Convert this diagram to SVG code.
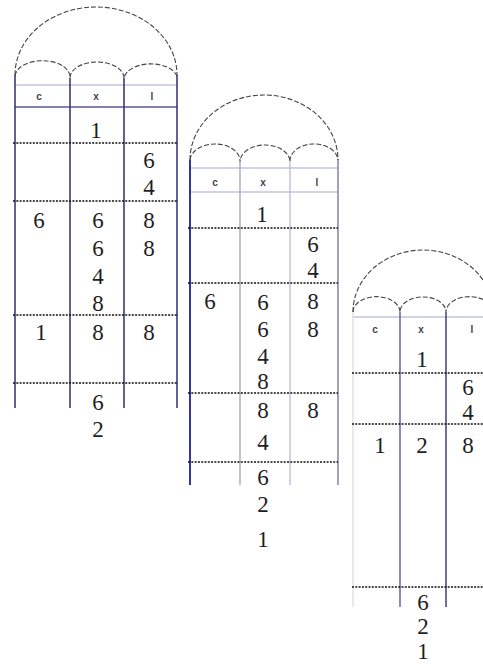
<svg xmlns="http://www.w3.org/2000/svg" width="483" height="666" viewBox="0 0 483 666">
<style>
.arc{fill:none;stroke:#444;stroke-width:1.1;stroke-dasharray:5 2}
.dot{fill:none;stroke:#111;stroke-width:1.6;stroke-dasharray:2 1.3}
.hl{stroke:#a4a8d0;stroke-width:1.2}
.d{font-family:'Liberation Serif','DejaVu Serif','Times New Roman',serif;font-size:23px;fill:#1e1e1e;text-anchor:middle}
.h{font-family:'Liberation Sans','DejaVu Sans',Arial,sans-serif;font-size:10px;font-weight:bold;fill:#444;text-anchor:middle}
</style>
<rect width="483" height="666" fill="#fff"/>
<g id="panel1">
<path class="arc" d="M15 75 A81 68 0 0 1 177 75"/>
<path class="arc" d="M15 76 A27 16 0 0 1 70 78 A27 16 0 0 1 124 78 A27 16 0 0 1 177 76"/>
<line class="hl" x1="15" y1="85" x2="177" y2="85"/>
<line x1="15" y1="107" x2="177" y2="107" stroke="#5a5a96" stroke-width="1.3"/>
<g stroke="#3a3a78" stroke-width="1.6">
<line x1="15" y1="75" x2="15" y2="408"/>
<line x1="70" y1="78" x2="70" y2="408"/>
<line x1="124" y1="78" x2="124" y2="408"/>
<line x1="177" y1="75" x2="177" y2="408"/>
</g>
<line class="dot" x1="13" y1="143" x2="177" y2="143"/>
<line class="dot" x1="13" y1="201" x2="177" y2="201"/>
<line class="dot" x1="13" y1="315" x2="177" y2="315"/>
<line class="dot" x1="13" y1="383" x2="177" y2="383"/>
<text class="h" x="39" y="100">c</text>
<text class="h" x="96" y="100">x</text>
<text class="h" x="152" y="100">l</text>
<text class="d" x="96" y="138" font-family="Liberation Serif, serif">1</text>
<text class="d" x="149" y="168" font-family="Liberation Serif, serif">6</text>
<text class="d" x="149" y="195" font-family="Liberation Serif, serif">4</text>
<text class="d" x="39" y="228" font-family="Liberation Serif, serif">6</text>
<text class="d" x="98" y="228" font-family="Liberation Serif, serif">6</text>
<text class="d" x="98" y="256" font-family="Liberation Serif, serif">6</text>
<text class="d" x="98" y="284" font-family="Liberation Serif, serif">4</text>
<text class="d" x="98" y="311" font-family="Liberation Serif, serif">8</text>
<text class="d" x="149" y="228" font-family="Liberation Serif, serif">8</text>
<text class="d" x="149" y="256" font-family="Liberation Serif, serif">8</text>
<text class="d" x="41" y="340" font-family="Liberation Serif, serif">1</text>
<text class="d" x="98" y="340" font-family="Liberation Serif, serif">8</text>
<text class="d" x="149" y="340" font-family="Liberation Serif, serif">8</text>
<text class="d" x="98" y="410" font-family="Liberation Serif, serif">6</text>
<text class="d" x="98" y="437" font-family="Liberation Serif, serif">2</text>
</g>
<g id="panel2">
<path class="arc" d="M190 160 A74 65 0 0 1 338 160"/>
<path class="arc" d="M190 160 A25 17 0 0 1 240 162 A25 17 0 0 1 290 162 A24 17 0 0 1 338 160"/>
<line class="hl" x1="190" y1="168" x2="338" y2="168"/>
<line class="hl" x1="190" y1="192" x2="338" y2="192"/>
<line x1="190" y1="160" x2="190" y2="485" stroke="#3434a4" stroke-width="2"/>
<line x1="240" y1="162" x2="240" y2="485" stroke="#a6a6c8" stroke-width="1.4"/>
<line x1="290" y1="162" x2="290" y2="485" stroke="#b4b4d0" stroke-width="1.2"/>
<line x1="338" y1="160" x2="338" y2="485" stroke="#7a7a9c" stroke-width="1.4"/>
<line class="dot" x1="188" y1="228" x2="338" y2="228"/>
<line class="dot" x1="188" y1="283" x2="338" y2="283"/>
<line class="dot" x1="188" y1="393" x2="338" y2="393"/>
<line class="dot" x1="188" y1="462" x2="338" y2="462"/>
<text class="h" x="215" y="186">c</text>
<text class="h" x="263" y="186">x</text>
<text class="h" x="317" y="186">l</text>
<text class="d" x="262" y="222" font-family="Liberation Serif, serif">1</text>
<text class="d" x="313" y="252" font-family="Liberation Serif, serif">6</text>
<text class="d" x="313" y="278" font-family="Liberation Serif, serif">4</text>
<text class="d" x="210" y="309" font-family="Liberation Serif, serif">6</text>
<text class="d" x="263" y="310" font-family="Liberation Serif, serif">6</text>
<text class="d" x="263" y="337" font-family="Liberation Serif, serif">6</text>
<text class="d" x="263" y="364" font-family="Liberation Serif, serif">4</text>
<text class="d" x="263" y="389" font-family="Liberation Serif, serif">8</text>
<text class="d" x="313" y="309" font-family="Liberation Serif, serif">8</text>
<text class="d" x="313" y="337" font-family="Liberation Serif, serif">8</text>
<text class="d" x="263" y="418" font-family="Liberation Serif, serif">8</text>
<text class="d" x="313" y="418" font-family="Liberation Serif, serif">8</text>
<text class="d" x="263" y="450" font-family="Liberation Serif, serif">4</text>
<text class="d" x="263" y="485" font-family="Liberation Serif, serif">6</text>
<text class="d" x="263" y="512" font-family="Liberation Serif, serif">2</text>
<text class="d" x="263" y="547" font-family="Liberation Serif, serif">1</text>
</g>
<g id="panel3">
<path class="arc" d="M353 312 A70 62 0 0 1 493 312"/>
<path class="arc" d="M353 312 A23 15 0 0 1 400 312 A23 15 0 0 1 446 312 A23 15 0 0 1 493 312"/>
<line class="hl" x1="353" y1="317" x2="483" y2="317"/>
<line x1="353" y1="312" x2="353" y2="607" stroke="#e2dcee" stroke-width="1.4"/>
<line x1="400" y1="312" x2="400" y2="607" stroke="#6c6cb0" stroke-width="1.6"/>
<line x1="446" y1="312" x2="446" y2="607" stroke="#4c4c82" stroke-width="1.6"/>
<line class="dot" x1="352" y1="373" x2="483" y2="373"/>
<line class="dot" x1="352" y1="424" x2="483" y2="424"/>
<line class="dot" x1="352" y1="587" x2="483" y2="587"/>
<text class="h" x="375" y="333">c</text>
<text class="h" x="421" y="333">x</text>
<text class="h" x="472" y="333">l</text>
<text class="d" x="422" y="367" font-family="Liberation Serif, serif">1</text>
<text class="d" x="468" y="395" font-family="Liberation Serif, serif">6</text>
<text class="d" x="468" y="420" font-family="Liberation Serif, serif">4</text>
<text class="d" x="380" y="453" font-family="Liberation Serif, serif">1</text>
<text class="d" x="422" y="453" font-family="Liberation Serif, serif">2</text>
<text class="d" x="468" y="453" font-family="Liberation Serif, serif">8</text>
<text class="d" x="423" y="610" font-family="Liberation Serif, serif" font-size="21">6</text>
<text class="d" x="423" y="634" font-family="Liberation Serif, serif" font-size="21">2</text>
<text class="d" x="423" y="659" font-family="Liberation Serif, serif" font-size="21">1</text>
</g>
</svg>
